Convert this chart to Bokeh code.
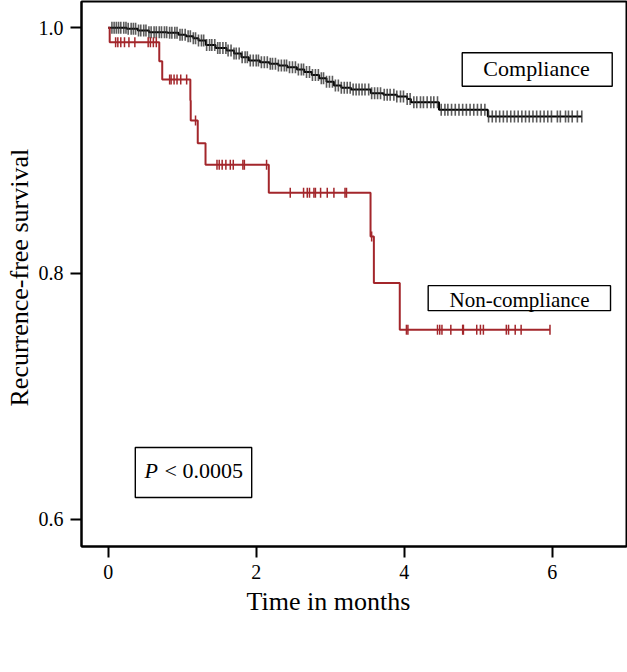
import numpy as np
from bokeh.plotting import figure
from bokeh.models import Range1d, FixedTicker, NumeralTickFormatter, Title
from bokeh.core.properties import value
from bokeh.embed import file_html
from bokeh.resources import INLINE

# ---------------- data ----------------
# Compliance group: event times (months) and survival after each event
comp_times = [0.00, 0.25, 0.40, 0.55, 0.80, 0.95, 1.05, 1.15, 1.22, 1.32, 1.45,
              1.60, 1.70, 1.80, 1.90, 2.05, 2.18, 2.30, 2.42, 2.55, 2.65, 2.75,
              2.85, 2.95, 3.05, 3.15, 3.28, 3.55, 3.72, 3.90, 4.04, 4.09, 4.47,
              5.13]
comp_surv = [1.0000, 0.9992, 0.9978, 0.9964, 0.9959, 0.9943, 0.9932, 0.9915,
             0.9897, 0.9860, 0.9835, 0.9815, 0.9790, 0.9760, 0.9734, 0.9720,
             0.9707, 0.9693, 0.9679, 0.9660, 0.9640, 0.9615, 0.9590, 0.9560,
             0.9530, 0.9511, 0.9497, 0.9467, 0.9455, 0.9440, 0.9420, 0.9394,
             0.9332, 0.9277]
comp_end = 6.40
comp_censor = [0.05, 0.08, 0.11, 0.14, 0.17, 0.21, 0.24, 0.27, 0.31, 0.34, 0.37,
               0.41, 0.44, 0.48, 0.51, 0.55, 0.58, 0.62, 0.65, 0.69, 0.72, 0.76,
               0.79, 0.83, 0.86, 0.90, 0.93, 0.97, 1.00, 1.04, 1.08, 1.11, 1.15,
               1.18, 1.22, 1.26, 1.29, 1.33, 1.37, 1.40, 1.44, 1.48, 1.51, 1.55,
               1.59, 1.62, 1.66, 1.70, 1.73, 1.77, 1.81, 1.85, 1.88, 1.92, 1.96,
               2.00, 2.03, 2.07, 2.11, 2.15, 2.19, 2.22, 2.26, 2.30, 2.34, 2.38,
               2.41, 2.45, 2.49, 2.53, 2.57, 2.61, 2.64, 2.68, 2.72, 2.76, 2.80,
               2.84, 2.88, 2.91, 2.95, 2.99, 3.03, 3.07, 3.11, 3.15, 3.19, 3.23,
               3.27, 3.31, 3.35, 3.39, 3.43, 3.47, 3.52, 3.56, 3.60, 3.64, 3.68,
               3.73, 3.77, 3.81, 3.86, 3.90, 3.95, 3.99, 4.04, 4.08, 4.13, 4.17,
               4.22, 4.26, 4.31, 4.36, 4.40, 4.45, 4.50, 4.55, 4.59, 4.64, 4.69,
               4.74, 4.79, 4.84, 4.89, 4.94, 4.99, 5.04, 5.09, 5.14, 5.19, 5.24,
               5.29, 5.34, 5.39, 5.44, 5.49, 5.54, 5.59, 5.64, 5.69, 5.74, 5.79,
               5.84, 5.89, 5.94, 5.99, 6.07, 6.11, 6.18, 6.22, 6.27, 6.34, 6.40]

# Non-compliance group
nc_times = [0.00, 0.02, 0.69, 0.73, 1.11, 1.115, 1.21, 1.315, 2.17, 3.545, 3.59, 3.94]
nc_surv = [1.0000, 0.9883, 0.9728, 0.9579, 0.9408, 0.9245, 0.9060, 0.8884,
           0.8656, 0.8300, 0.7923, 0.7542]
nc_end = 5.97
nc_censor = [0.10, 0.13, 0.17, 0.22, 0.28, 0.36, 0.54, 0.57, 0.61, 0.65,
             0.83, 0.85, 0.89, 0.93, 0.98, 1.06, 1.18,
             1.47, 1.50, 1.54, 1.59, 1.65, 1.69, 1.82, 1.84, 2.14,
             2.46, 2.64, 2.69, 2.72, 2.78, 2.80, 2.87, 2.96, 3.05, 3.20, 3.22,
             3.56,
             4.03, 4.05, 4.45, 4.48, 4.51, 4.63, 4.79, 4.80, 4.98, 5.03, 5.07,
             5.38, 5.41, 5.50, 5.58, 5.97]

x_ticks = [0, 2, 4, 6]
y_ticks = [0.6, 0.8, 1.0]
x_title = "Time in months"
y_title = "Recurrence-free survival"
group_labels = ["Compliance", "Non-compliance"]
p_label = ("P", "< 0.0005")

RED = "#A3262B"
FONT = "Liberation Serif"


def level_at(times, surv, t):
    idx = np.searchsorted(np.asarray(times), np.asarray(t), side="right") - 1
    return np.asarray(surv)[idx]


p = figure(width=627, height=672, output_backend="svg", toolbar_location=None,
           x_range=Range1d(-0.361, 7.004), y_range=Range1d(0.5777, 1.0214),
           min_border_left=81, min_border_right=1, min_border_top=1,
           min_border_bottom=126)

p.xgrid.grid_line_color = None
p.ygrid.grid_line_color = None
p.outline_line_color = "black"
p.outline_line_width = 2
p.outline_line_alpha = 1.0
p.background_fill_color = "white"
p.border_fill_color = "white"

for ax in (p.xaxis[0], p.yaxis[0]):
    ax.axis_line_width = 2
    ax.axis_line_color = "black"
    ax.major_tick_line_width = 2
    ax.major_tick_line_color = "black"
    ax.major_tick_in = 0
    ax.major_tick_out = 11
    ax.minor_tick_out = 0
    ax.minor_tick_in = 0
    ax.major_label_text_font = FONT
    ax.major_label_text_color = "black"
    ax.major_label_text_font_size = "20px"
    ax.major_label_standoff = 7

p.xaxis.ticker = FixedTicker(ticks=x_ticks)
p.yaxis.ticker = FixedTicker(ticks=y_ticks)
p.yaxis.formatter = NumeralTickFormatter(format="0.0")

# axis titles (placed as titles so they can be offset like the original)
p.add_layout(Title(text=x_title, align="left", offset=165, standoff=6,
                   text_font=FONT, text_font_size="26px",
                   text_font_style="normal", text_color="black"), "below")
p.add_layout(Title(text=y_title, align="left", offset=140, standoff=4,
                   text_font=FONT, text_font_size="26px",
                   text_font_style="normal", text_color="black"), "left")

# step curves
p.step(comp_times + [comp_end], comp_surv + [comp_surv[-1]], mode="after",
       line_color="black", line_width=2)
p.step(nc_times + [nc_end], nc_surv + [nc_surv[-1]], mode="after",
       line_color=RED, line_width=2)

# censor marks
p.scatter(comp_censor, level_at(comp_times, comp_surv, comp_censor),
          marker="dash", angle=np.pi / 2, size=12,
          line_color="#333333", line_alpha=0.8, line_width=1.6)
p.scatter(nc_censor, level_at(nc_times, nc_surv, nc_censor),
          marker="dash", angle=np.pi / 2, size=10,
          line_color=RED, line_width=1.5)

# label boxes
p.quad(left=[4.784, 4.324, 0.366], right=[6.811, 6.788, 1.939],
       top=[0.97963, 0.79006, 0.65833], bottom=[0.95242, 0.76970, 0.61760],
       fill_color="white", line_color="black", line_width=1.4)

p.text(x=[5.788], y=[0.9672], text=[group_labels[0]], text_font=value(FONT),
       text_font_size="22px", text_align="center", text_baseline="alphabetic",
       text_color="black")
p.text(x=[5.558], y=[0.7786], text=[group_labels[1]], text_font=value(FONT),
       text_font_size="21px", text_align="center", text_baseline="alphabetic",
       text_color="black")
p.text(x=[0.4905], y=[0.6396], text=[p_label[0]], text_font=value(FONT),
       text_font_size="22px", text_font_style="italic", text_align="left",
       text_baseline="alphabetic", text_color="black")
p.text(x=[0.762], y=[0.6396], text=[p_label[1]], text_font=value(FONT),
       text_font_size="22px", text_align="left", text_baseline="alphabetic",
       text_color="black")

open("out.html", "w").write(file_html(p, INLINE))
